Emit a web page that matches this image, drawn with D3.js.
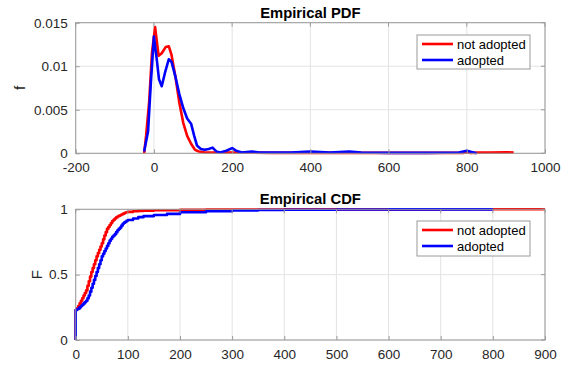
<!DOCTYPE html>
<html><head><meta charset="utf-8">
<script src="https://cdn.jsdelivr.net/npm/d3@7"></script>
<style>body{margin:0;background:#fff}svg{display:block}text{font-family:"Liberation Sans",Arial,sans-serif}</style>
</head><body>
<svg id="c" width="569" height="369"></svg>
<script>
// ---- data ----
const seriesNames = ["not adopted", "adopted"];
const pdfXTicks = [-200, 0, 200, 400, 600, 800, 1000];
const pdfYTicks = [0, 0.005, 0.01, 0.015];
const cdfXTicks = [0, 100, 200, 300, 400, 500, 600, 700, 800, 900];
const cdfYTicks = [0, 0.5, 1];

const pdfNotAdoptedX = [-25,-20,-12,-5,3,12,20,30,38,45,55,65,75,85,95,105,115,130,150,200,300,400,500,600,700,790,800,810,830,860,900,920];
const pdfNotAdoptedY = [0,0.002,0.006,0.0115,0.0145,0.0112,0.0115,0.0122,0.0123,0.0113,0.0088,0.0058,0.0035,0.002,0.0011,0.0004,0.0002,0.0001,0.0001,0.0001,0.00005,0.00005,0.00005,0.00005,0.00005,0.00005,0.0001,0.00005,0.00008,0.0001,0.00012,0.0001];
const pdfAdoptedX = [-25,-15,-8,0,8,13,20,28,38,45,55,65,75,85,95,103,110,120,130,140,150,160,170,185,200,210,225,250,270,300,350,400,450,500,530,600,700,780,800,825];
const pdfAdoptedY = [0.0002,0.0025,0.008,0.0134,0.0105,0.0085,0.0077,0.0092,0.0108,0.0105,0.0088,0.0068,0.0052,0.004,0.0034,0.002,0.0009,0.0005,0.0004,0.0005,0.00065,0.0002,0.0001,0.0003,0.0006,0.0003,0.0001,0.0002,0.0001,0.0001,0.0001,0.0002,0.0001,0.0002,0.0001,0.00005,0.00005,0.0001,0.0003,0.0];

const cdfNotAdoptedX = [0,0,2.5,5,7.5,10,12.5,15,17.5,20,22.5,25,27.5,30,32.5,35,37.5,40,42.5,45,47.5,50,52.5,55,57.5,60,62.5,65,67.5,70,72.5,75,77.5,80,82.5,85,87.5,90,92.5,95,97.5,100,110,120,130,150,200,250,300,400,500,600,700,800,900];
const cdfNotAdoptedY = [0,0.23,0.245,0.26,0.28,0.3,0.32,0.34,0.36,0.38,0.415,0.45,0.485,0.52,0.55,0.58,0.61,0.64,0.665,0.69,0.715,0.74,0.77,0.8,0.825,0.85,0.865,0.88,0.895,0.91,0.92,0.93,0.938,0.945,0.95,0.955,0.96,0.965,0.97,0.975,0.978,0.98,0.985,0.988,0.99,0.993,0.997,0.998,0.999,0.9995,0.9997,0.9998,0.9999,1,1];
const cdfAdoptedX = [0,0,2.5,5,7.5,10,12.5,15,17.5,20,22.5,25,27.5,30,32.5,35,37.5,40,42.5,45,47.5,50,52.5,55,57.5,60,62.5,65,67.5,70,72.5,75,77.5,80,82.5,85,87.5,90,92.5,95,97.5,100,110,120,130,150,175,200,250,300,350,400,500,600,700,800];
const cdfAdoptedY = [0,0.23,0.235,0.24,0.25,0.26,0.27,0.28,0.29,0.3,0.32,0.34,0.37,0.4,0.43,0.46,0.49,0.52,0.55,0.58,0.61,0.64,0.66,0.68,0.7,0.72,0.74,0.76,0.775,0.79,0.8,0.81,0.825,0.84,0.85,0.86,0.875,0.89,0.898,0.905,0.912,0.918,0.93,0.94,0.948,0.956,0.965,0.977,0.985,0.992,0.995,0.997,0.999,0.9995,0.9998,1];

const colors = ["#ff0000", "#0000ff"];

// ---- drawing ----
const svg = d3.select("#c");
const L = 75.7, R = 545;
const panels = [
  {top: 22.7, bot: 153.3, xd: [-200, 1000], yd: [0, 0.015], xt: pdfXTicks, yt: pdfYTicks,
   title: "Empirical PDF", ylab: "f", ylabX: 20, yfmt: d => d === 0 ? "0" : String(d),
   series: [[pdfNotAdoptedX, pdfNotAdoptedY], [pdfAdoptedX, pdfAdoptedY]], curve: d3.curveLinear,
   leg: {x: 417, y: 35, w: 113, h: 34}},
  {top: 209.3, bot: 340, xd: [0, 900], yd: [0, 1], xt: cdfXTicks, yt: cdfYTicks,
   title: "Empirical CDF", ylab: "F", ylabX: 37, yfmt: d => String(d),
   series: [[cdfNotAdoptedX, cdfNotAdoptedY], [cdfAdoptedX, cdfAdoptedY]], curve: d3.curveStepAfter,
   leg: {x: 417, y: 221, w: 113, h: 35}}
];

panels.forEach(p => {
  const x = d3.scaleLinear().domain(p.xd).range([L, R]);
  const y = d3.scaleLinear().domain(p.yd).range([p.bot, p.top]);
  const g = svg.append("g");
  // grid
  g.selectAll(".gx").data(p.xt).join("line").attr("x1", d => x(d)).attr("x2", d => x(d))
    .attr("y1", p.top).attr("y2", p.bot).attr("stroke", "#e3e3e3").attr("stroke-width", 1);
  g.selectAll(".gy").data(p.yt).join("line").attr("y1", d => y(d)).attr("y2", d => y(d))
    .attr("x1", L).attr("x2", R).attr("stroke", "#e3e3e3").attr("stroke-width", 1);
  // lines
  p.series.forEach((s, i) => {
    const pts = s[0].map((v, k) => [v, s[1][k]]);
    g.append("path").datum(pts)
      .attr("d", d3.line().x(d => x(d[0])).y(d => y(d[1])).curve(p.curve))
      .attr("fill", "none").attr("stroke", colors[i]).attr("stroke-width", 2.6)
      .attr("stroke-linejoin", "round");
  });
  // box
  g.append("rect").attr("x", L).attr("y", p.top).attr("width", R - L).attr("height", p.bot - p.top)
    .attr("fill", "none").attr("stroke", "#9a9a9a").attr("stroke-width", 1);
  // axes (ticks inward)
  const xa = d3.axisBottom(x).tickValues(p.xt).tickSize(-4).tickPadding(9).tickFormat(d => String(d));
  const ya = d3.axisLeft(y).tickValues(p.yt).tickSize(-4).tickPadding(8).tickFormat(p.yfmt);
  const gx = g.append("g").attr("transform", `translate(0,${p.bot})`).call(xa);
  const gy = g.append("g").attr("transform", `translate(${L},0)`).call(ya);
  [gx, gy].forEach(a => {
    a.select(".domain").remove();
    a.selectAll("line").attr("stroke", "#9a9a9a");
    a.selectAll("text").attr("fill", "#262626").style("font-size", "13.5px").style("font-family", "'Liberation Sans',Arial,sans-serif");
  });
  // top/right ticks
  g.selectAll(".tt").data(p.xt).join("line").attr("x1", d => x(d)).attr("x2", d => x(d))
    .attr("y1", p.top).attr("y2", p.top + 4).attr("stroke", "#9a9a9a");
  g.selectAll(".rt").data(p.yt).join("line").attr("y1", d => y(d)).attr("y2", d => y(d))
    .attr("x1", R).attr("x2", R - 4).attr("stroke", "#9a9a9a");
  // title
  g.append("text").attr("x", (L + R) / 2).attr("y", p.top - 5).attr("text-anchor", "middle")
    .attr("font-weight", "bold").attr("font-size", 14.8).attr("fill", "#000").text(p.title);
  // y label
  g.append("text").attr("transform", `translate(${p.ylabX},${(p.top + p.bot) / 2}) rotate(-90)`)
    .attr("text-anchor", "middle").attr("dy", "0.35em").attr("font-size", 15).attr("fill", "#262626").text(p.ylab);
  // legend
  const lg = g.append("g");
  lg.append("rect").attr("x", p.leg.x).attr("y", p.leg.y).attr("width", p.leg.w).attr("height", p.leg.h)
    .attr("fill", "#fff").attr("stroke", "#9a9a9a").attr("stroke-width", 1);
  seriesNames.forEach((n, i) => {
    const ly = p.leg.y + 9 + i * 16;
    lg.append("line").attr("x1", p.leg.x + 5).attr("x2", p.leg.x + 36).attr("y1", ly).attr("y2", ly)
      .attr("stroke", colors[i]).attr("stroke-width", 2.6);
    lg.append("text").attr("x", p.leg.x + 40).attr("y", ly).attr("dy", "0.35em")
      .attr("font-size", 13).attr("fill", "#000").text(n);
  });
});
</script>
</body></html>
